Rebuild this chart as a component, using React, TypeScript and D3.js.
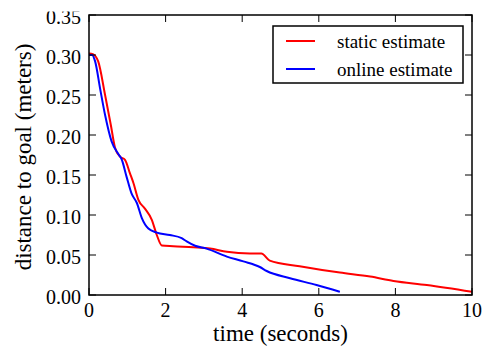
import React from "react";
import * as d3 from "d3";

// static estimate (red)
const staticTime = [0, 0.1, 0.24, 0.42, 0.57, 0.68, 0.81, 0.94, 1.07, 1.16, 1.29, 1.46, 1.64, 1.77, 1.9, 2.2, 2.72, 3.16, 3.6, 4.2, 4.5, 4.72, 5.5, 6.55, 7.34, 7.95, 8.82, 10];
const staticDist = [0.302, 0.301, 0.292, 0.25, 0.2125, 0.184, 0.173, 0.169, 0.152, 0.14, 0.119, 0.108, 0.094, 0.075, 0.062, 0.061, 0.0596, 0.058, 0.054, 0.052, 0.052, 0.043, 0.036, 0.028, 0.023, 0.0175, 0.0125, 0.004];

// online estimate (blue)
const onlineTime = [0, 0.08, 0.16, 0.29, 0.42, 0.59, 0.77, 0.85, 0.98, 1.11, 1.25, 1.38, 1.55, 1.77, 2.11, 2.42, 2.55, 2.77, 3.07, 3.6, 4.03, 4.46, 4.64, 5.25, 5.94, 6.55];
const onlineDist = [0.3, 0.3, 0.292, 0.258, 0.225, 0.192, 0.176, 0.17, 0.148, 0.127, 0.115, 0.096, 0.083, 0.078, 0.075, 0.071, 0.067, 0.0615, 0.058, 0.048, 0.042, 0.035, 0.03, 0.021, 0.0125, 0.004];

const xTicks = [0, 2, 4, 6, 8, 10];
const yTicks = [0, 0.05, 0.1, 0.15, 0.2, 0.25, 0.3, 0.35];

const seriesNames = ["static estimate", "online estimate"];
const seriesColors = ["#ff0000", "#0000ff"];

const W = 485;
const H = 346;
const margin = { top: 15, right: 13, bottom: 51, left: 89 };
const width = W - margin.left - margin.right;
const height = H - margin.top - margin.bottom;
const serif = "Times New Roman, Liberation Serif, Tinos, serif";
const tickLen = 7;

const App: React.FC = () => {
    const x = d3.scaleLinear().domain([0, 10]).range([0, width]);
    const y = d3.scaleLinear().domain([0, 0.35]).range([height, 0]);

    const line = d3
        .line<[number, number]>()
        .x((d) => x(d[0]))
        .y((d) => y(d[1]))
        .curve(d3.curveMonotoneX);

    const series: [number, number][][] = [
        staticTime.map((t, i) => [t, staticDist[i]] as [number, number]),
        onlineTime.map((t, i) => [t, onlineDist[i]] as [number, number]),
    ];

    return (
        <div style={{ fontFamily: serif }}>
            <svg
                width={W}
                height={H}
                fontFamily={serif}
                style={{ position: "absolute", left: 0, top: 0, fontFamily: serif }}
            >
                <defs>
                    <clipPath id="ylab-clip">
                        <rect x={0} y={11.5} width={W} height={H} />
                    </clipPath>
                </defs>
                <g transform={`translate(${margin.left},${margin.top})`}>
                    {series.map((s, i) => (
                        <path
                            key={i}
                            d={line(s) || ""}
                            fill="none"
                            stroke={seriesColors[i]}
                            strokeWidth={2}
                        />
                    ))}
                    {/* inward ticks on all four sides */}
                    {xTicks.map((t) => (
                        <g key={"x" + t}>
                            <line x1={x(t)} x2={x(t)} y1={height} y2={height - tickLen} stroke="#000" />
                            <line x1={x(t)} x2={x(t)} y1={0} y2={tickLen} stroke="#000" />
                            <text x={x(t)} y={height + 22} textAnchor="middle" fontSize={20}>
                                {String(t)}
                            </text>
                        </g>
                    ))}
                    {yTicks.map((t) => (
                        <g key={"y" + t}>
                            <line x1={0} x2={tickLen} y1={y(t)} y2={y(t)} stroke="#000" />
                            <line x1={width} x2={width - tickLen} y1={y(t)} y2={y(t)} stroke="#000" />
                        </g>
                    ))}
                    <rect width={width} height={height} fill="none" stroke="#000" strokeWidth={1.5} />
                </g>
                <g clipPath="url(#ylab-clip)">
                    {yTicks.map((t) => (
                        <text
                            key={"yl" + t}
                            x={margin.left - 8}
                            y={margin.top + y(t) + 9}
                            textAnchor="end"
                            fontSize={20}
                        >
                            {t.toFixed(2)}
                        </text>
                    ))}
                </g>
                <text x={margin.left + width / 2} y={341} textAnchor="middle" fontSize={23}>
                    time (seconds)
                </text>
                <text
                    transform={`translate(31,${margin.top + height / 2 + 2}) rotate(-90)`}
                    textAnchor="middle"
                    fontSize={23}
                >
                    distance to goal (meters)
                </text>
                {/* legend */}
                <g transform="translate(273,26)">
                    <rect width={190} height={57} fill="#fff" stroke="#000" strokeWidth={1.5} />
                    {seriesNames.map((name, i) => (
                        <g key={name}>
                            <line
                                x1={13}
                                x2={42}
                                y1={15 + i * 28}
                                y2={15 + i * 28}
                                stroke={seriesColors[i]}
                                strokeWidth={2}
                            />
                            <text x={64} y={22 + i * 28} fontSize={19}>
                                {name}
                            </text>
                        </g>
                    ))}
                </g>
            </svg>
        </div>
    );
};

export default App;
